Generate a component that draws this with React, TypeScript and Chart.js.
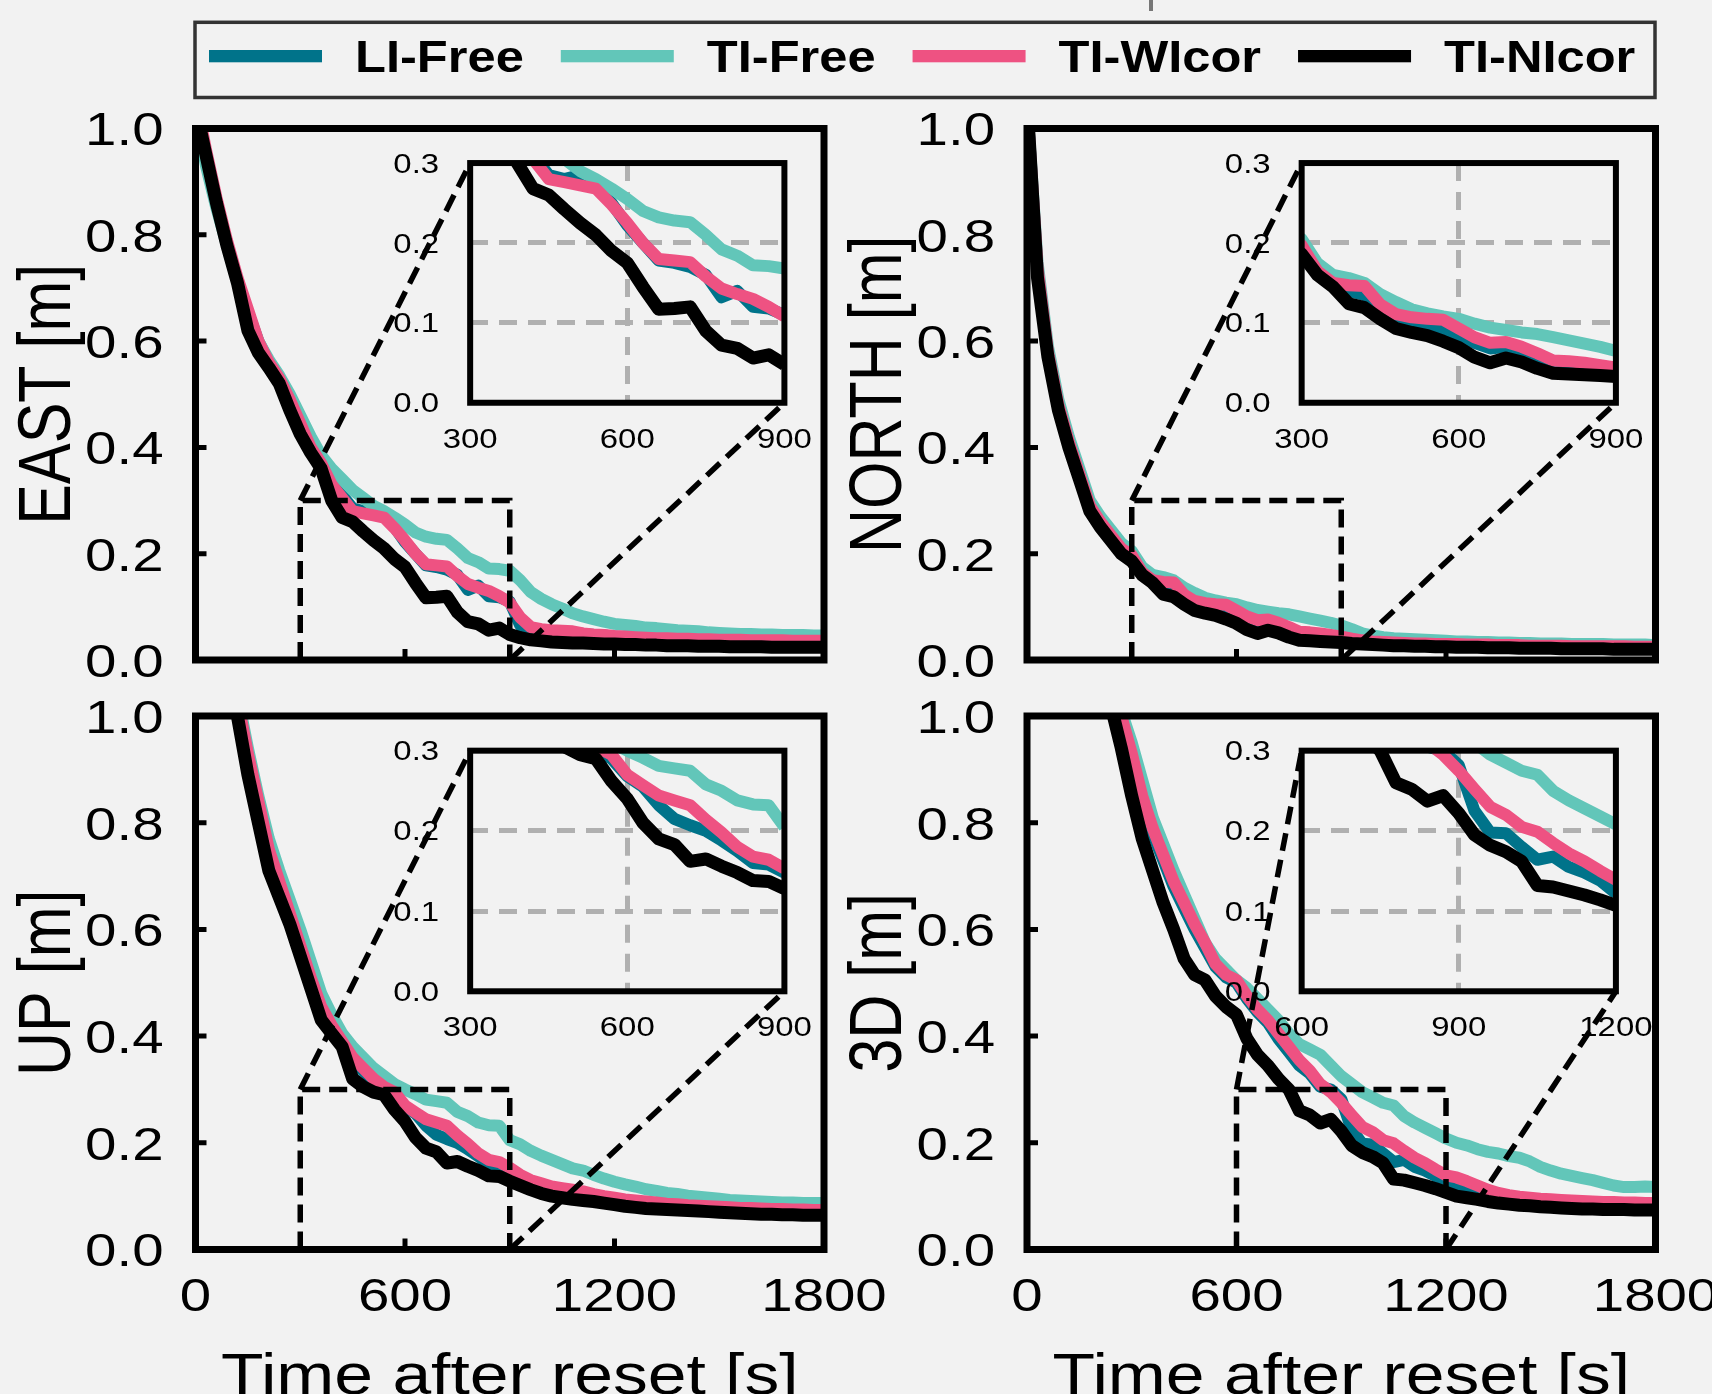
import React, { useEffect, useRef } from "react";
import { Chart, registerables } from "chart.js";

Chart.register(...registerables);

// ---------------- data ----------------
const TIME = [
  0, 30, 60, 90, 120, 150, 180, 210, 240, 270,
  300, 330, 360, 390, 420, 450, 480, 510, 540, 570,
  600, 630, 660, 690, 720, 750, 780, 810, 840, 870,
  900, 930, 960, 990, 1020, 1050, 1080, 1110, 1140, 1170,
  1200, 1230, 1260, 1290, 1320, 1350, 1380, 1410, 1440, 1470,
  1500, 1530, 1560, 1590, 1620, 1650, 1680, 1710, 1740, 1770,
  1800,
];

const SERIES_LABELS = ["LI-Free", "TI-Free", "TI-WIcor", "TI-NIcor"];

// EAST
const EAST_LI_FREE = [
  1.05, 0.95, 0.86, 0.785, 0.715, 0.655, 0.6, 0.56, 0.53, 0.49,
  0.445, 0.4, 0.365, 0.335, 0.31, 0.285, 0.28, 0.285, 0.27, 0.25,
  0.222, 0.2, 0.178, 0.175, 0.17, 0.16, 0.132, 0.14, 0.12, 0.118,
  0.11, 0.065, 0.056, 0.055, 0.054, 0.053, 0.052, 0.049, 0.047, 0.046,
  0.044, 0.043, 0.042, 0.041, 0.04, 0.04, 0.039, 0.039, 0.038, 0.038,
  0.037, 0.037, 0.037, 0.036, 0.036, 0.036, 0.036, 0.035, 0.035, 0.035,
  0.035,
];
const EAST_TI_FREE = [
  1.04, 0.93, 0.85, 0.78, 0.71, 0.65, 0.6, 0.565, 0.535, 0.5,
  0.46, 0.42, 0.385, 0.36, 0.34, 0.32, 0.305, 0.29, 0.28, 0.268,
  0.255, 0.24, 0.232, 0.228, 0.226, 0.21, 0.192, 0.184, 0.172, 0.171,
  0.168, 0.15, 0.128, 0.115, 0.105, 0.097, 0.088, 0.082, 0.077, 0.072,
  0.068, 0.066, 0.064, 0.061, 0.06, 0.058, 0.056, 0.055, 0.054, 0.052,
  0.051, 0.05, 0.049, 0.049, 0.048, 0.048, 0.047, 0.047, 0.047, 0.046,
  0.046,
];
const EAST_TI_WICOR = [
  1.06, 0.96, 0.87, 0.79, 0.72, 0.66, 0.6, 0.56, 0.53, 0.49,
  0.445, 0.4, 0.37, 0.33, 0.305, 0.28, 0.276, 0.272, 0.268, 0.248,
  0.225, 0.2, 0.18, 0.178, 0.176, 0.158, 0.143, 0.136, 0.13, 0.12,
  0.108, 0.08, 0.062, 0.058, 0.056, 0.055, 0.054, 0.05, 0.048, 0.047,
  0.045, 0.044, 0.043, 0.042, 0.041, 0.041, 0.04, 0.04, 0.039, 0.039,
  0.038, 0.038, 0.038, 0.037, 0.037, 0.037, 0.037, 0.036, 0.036, 0.036,
  0.036,
];
const EAST_TI_NICOR = [
  1.04, 0.95, 0.86, 0.78, 0.71, 0.62, 0.578, 0.55, 0.52, 0.47,
  0.425, 0.39, 0.36, 0.3, 0.268, 0.26, 0.242, 0.225, 0.21, 0.19,
  0.175, 0.145, 0.117, 0.118, 0.12, 0.09, 0.072, 0.068, 0.056, 0.06,
  0.048, 0.042, 0.038, 0.036, 0.034, 0.033, 0.032, 0.032, 0.031, 0.03,
  0.03, 0.029, 0.029, 0.028, 0.028, 0.027, 0.027, 0.027, 0.026, 0.026,
  0.026, 0.025, 0.025, 0.025, 0.025, 0.024, 0.024, 0.024, 0.024, 0.024,
  0.024,
];

// NORTH
const NORTH_LI_FREE = [
  1.05, 0.73, 0.575, 0.475, 0.405, 0.345, 0.285, 0.255, 0.23, 0.205,
  0.19, 0.162, 0.147, 0.14, 0.135, 0.115, 0.103, 0.099, 0.096, 0.093,
  0.084, 0.075, 0.068, 0.07, 0.065, 0.058, 0.048, 0.047, 0.045, 0.043,
  0.04, 0.037, 0.034, 0.033, 0.032, 0.031, 0.03, 0.029, 0.029, 0.028,
  0.028, 0.028, 0.027, 0.027, 0.027, 0.026, 0.026, 0.026, 0.025, 0.025,
  0.025, 0.025, 0.024, 0.024, 0.024, 0.024, 0.024, 0.024, 0.023, 0.023,
  0.023,
];
const NORTH_TI_FREE = [
  1.05, 0.75, 0.59, 0.49, 0.42, 0.36, 0.3, 0.27, 0.245, 0.22,
  0.205, 0.175, 0.16, 0.156, 0.15, 0.136, 0.126, 0.117, 0.112, 0.108,
  0.105, 0.099, 0.094, 0.091, 0.088, 0.086, 0.082, 0.078, 0.074, 0.07,
  0.065, 0.058, 0.05, 0.046, 0.043, 0.041, 0.04, 0.039, 0.038, 0.037,
  0.036, 0.035, 0.035, 0.034, 0.034, 0.033, 0.033, 0.032, 0.032, 0.031,
  0.031, 0.031, 0.03, 0.03, 0.03, 0.03, 0.029, 0.029, 0.029, 0.029,
  0.028,
];
const NORTH_TI_WICOR = [
  1.05, 0.74, 0.58, 0.48, 0.41, 0.35, 0.29, 0.26, 0.235, 0.21,
  0.197, 0.165, 0.15, 0.147, 0.146, 0.123, 0.111, 0.107, 0.105, 0.104,
  0.093, 0.082, 0.075, 0.076, 0.07, 0.062, 0.053, 0.052, 0.05, 0.047,
  0.044, 0.04, 0.037, 0.035, 0.034, 0.033, 0.032, 0.031, 0.031, 0.03,
  0.03, 0.03, 0.029, 0.029, 0.029, 0.028, 0.028, 0.028, 0.027, 0.027,
  0.027, 0.027, 0.026, 0.026, 0.026, 0.026, 0.026, 0.026, 0.025, 0.025,
  0.025,
];
const NORTH_TI_NICOR = [
  1.05, 0.72, 0.57, 0.47, 0.4, 0.34, 0.28, 0.25, 0.225, 0.2,
  0.186, 0.16, 0.145, 0.124, 0.119, 0.105, 0.093, 0.088, 0.084, 0.077,
  0.069, 0.057, 0.05, 0.056, 0.051, 0.043, 0.037, 0.036, 0.035, 0.034,
  0.033, 0.031, 0.03, 0.029, 0.028, 0.027, 0.027, 0.026, 0.026, 0.025,
  0.025, 0.024, 0.024, 0.024, 0.023, 0.023, 0.023, 0.022, 0.022, 0.022,
  0.022, 0.021, 0.021, 0.021, 0.021, 0.021, 0.02, 0.02, 0.02, 0.02,
  0.02,
];

// UP
const UP_LI_FREE = [
  1.5, 1.37, 1.23, 1.11, 1.02, 0.92, 0.83, 0.74, 0.68, 0.62,
  0.565, 0.505, 0.45, 0.415, 0.385, 0.355, 0.335, 0.315, 0.3, 0.29,
  0.268, 0.255, 0.232, 0.215, 0.207, 0.2, 0.188, 0.175, 0.16, 0.158,
  0.148, 0.137, 0.128, 0.121, 0.115, 0.112, 0.109, 0.106, 0.101, 0.097,
  0.094, 0.091, 0.089, 0.087, 0.085, 0.083, 0.082, 0.08, 0.079, 0.078,
  0.077, 0.076, 0.075, 0.075, 0.074, 0.073, 0.073, 0.072, 0.072, 0.071,
  0.071,
];
const UP_TI_FREE = [
  1.5, 1.38, 1.25, 1.13, 1.04, 0.94, 0.85, 0.77, 0.71, 0.655,
  0.6, 0.54, 0.48, 0.44, 0.405, 0.38, 0.36, 0.34, 0.325, 0.31,
  0.3, 0.291, 0.281, 0.278, 0.275, 0.258, 0.25, 0.238, 0.233, 0.232,
  0.205, 0.197, 0.185, 0.176, 0.168, 0.16, 0.152, 0.148, 0.14, 0.133,
  0.127, 0.122, 0.118, 0.113, 0.11, 0.106, 0.104, 0.101, 0.099, 0.097,
  0.095, 0.093, 0.092, 0.091, 0.09, 0.089, 0.088, 0.088, 0.087, 0.087,
  0.087,
];
const UP_TI_WICOR = [
  1.5, 1.38, 1.24, 1.12, 1.03, 0.93, 0.84, 0.75, 0.69, 0.63,
  0.57, 0.51, 0.455, 0.42, 0.39, 0.36, 0.34, 0.32, 0.305, 0.295,
  0.27, 0.257, 0.244, 0.238, 0.232, 0.214, 0.198, 0.18, 0.168, 0.164,
  0.153, 0.14, 0.13, 0.124, 0.118, 0.115, 0.112, 0.109, 0.104, 0.1,
  0.097, 0.094, 0.092, 0.09, 0.088, 0.086, 0.085, 0.083, 0.082, 0.081,
  0.08, 0.079, 0.078, 0.078, 0.077, 0.076, 0.076, 0.075, 0.075, 0.074,
  0.074,
];
const UP_TI_NICOR = [
  1.5, 1.35, 1.2, 1.08, 1.0, 0.89, 0.8, 0.71, 0.66, 0.61,
  0.55, 0.49, 0.43, 0.405, 0.38, 0.32, 0.305, 0.295, 0.29, 0.262,
  0.24, 0.21, 0.19, 0.183, 0.162, 0.165, 0.156, 0.148, 0.138, 0.137,
  0.128, 0.12, 0.112, 0.105, 0.1, 0.097, 0.094, 0.092, 0.09, 0.087,
  0.084, 0.081, 0.079, 0.077, 0.076, 0.075, 0.074, 0.073, 0.072, 0.071,
  0.07, 0.069, 0.068, 0.067, 0.066, 0.066, 0.065, 0.065, 0.064, 0.064,
  0.064,
];

// 3D
const D3_LI_FREE = [
  2.0, 1.81, 1.64, 1.49, 1.36, 1.25, 1.16, 1.09, 1.04, 0.99,
  0.92, 0.84, 0.78, 0.73, 0.68, 0.64, 0.6, 0.565, 0.53, 0.51,
  0.5, 0.47, 0.445, 0.425, 0.395, 0.37, 0.345, 0.33, 0.305, 0.3,
  0.282, 0.225, 0.198, 0.197, 0.18, 0.164, 0.168, 0.155, 0.148, 0.138,
  0.122, 0.115, 0.11, 0.105, 0.1, 0.097, 0.094, 0.092, 0.091, 0.09,
  0.089, 0.088, 0.088, 0.087, 0.087, 0.086, 0.086, 0.086, 0.085, 0.085,
  0.085,
];
const D3_TI_FREE = [
  2.0, 1.83, 1.67, 1.53, 1.4, 1.29, 1.2, 1.12, 1.06, 1.01,
  0.95, 0.88, 0.81, 0.76, 0.71, 0.665, 0.62, 0.575, 0.545, 0.525,
  0.505, 0.49, 0.47, 0.45, 0.43, 0.405, 0.385, 0.375, 0.365, 0.345,
  0.325, 0.31, 0.295, 0.285, 0.275, 0.27, 0.25, 0.238, 0.228, 0.218,
  0.208, 0.2, 0.195, 0.188, 0.183, 0.18, 0.175, 0.172, 0.165, 0.155,
  0.148, 0.142, 0.138, 0.134, 0.13, 0.125, 0.12, 0.117, 0.117, 0.118,
  0.117,
];
const D3_TI_WICOR = [
  2.0, 1.82, 1.65, 1.5, 1.37, 1.26, 1.17, 1.1, 1.05, 1.0,
  0.93, 0.85, 0.79, 0.74, 0.69, 0.65, 0.61, 0.575, 0.535, 0.515,
  0.505, 0.475, 0.45, 0.43, 0.405, 0.38, 0.355, 0.335, 0.31, 0.295,
  0.275, 0.252, 0.23, 0.22, 0.205, 0.199, 0.185, 0.172, 0.162, 0.15,
  0.139, 0.135, 0.128, 0.12, 0.112, 0.106, 0.102, 0.099, 0.097, 0.095,
  0.094, 0.093, 0.092, 0.091, 0.09, 0.089, 0.089, 0.088, 0.088, 0.087,
  0.087,
];
const D3_TI_NICOR = [
  2.0, 1.8, 1.62, 1.47, 1.34, 1.23, 1.14, 1.07, 1.02, 0.94,
  0.85, 0.77, 0.71, 0.65, 0.6, 0.545, 0.515, 0.505, 0.475, 0.455,
  0.44, 0.395, 0.365, 0.345, 0.32, 0.3, 0.26, 0.252, 0.237, 0.244,
  0.222, 0.195, 0.182, 0.174, 0.162, 0.132, 0.13, 0.125, 0.12, 0.114,
  0.107, 0.1, 0.097, 0.094, 0.09, 0.087, 0.085, 0.083, 0.082, 0.08,
  0.079, 0.078, 0.077, 0.076, 0.076, 0.075, 0.075, 0.075, 0.074, 0.074,
  0.074,
];

// ticks / ranges
const MAIN_X_RANGE = [0, 1800];
const MAIN_Y_RANGE = [0, 1];
const MAIN_X_TICKS = [0, 600, 1200, 1800];
const MAIN_Y_TICKS = [0, 0.2, 0.4, 0.6, 0.8, 1.0];
const INSET_Y_TICKS = [0, 0.1, 0.2, 0.3];
const INSET_X_TICKS_A = [300, 600, 900];
const INSET_X_TICKS_B = [600, 900, 1200];
const ZOOM_X_A = [300, 900];
const ZOOM_X_B = [600, 1200];
const ZOOM_Y = [0, 0.3];

// ---------------- style ----------------
const SERIES_COLORS = ["#00738a", "#62c6b9", "#ee5282", "#000000"];
const SERIES_WIDTHS = [12, 12, 12, 13];
const SERIES_ORDER = [4, 3, 2, 1];
const BG = "#f2f2f2";
const FONT = '"Liberation Sans", Arial, Helvetica, sans-serif';
const STRETCH = 1.2;

type Rect = { x: number; y: number; w: number; h: number };
type Plot = { l: number; t: number; r: number; b: number };
interface PanelSpec {
  title: string;
  series: number[][];
  zoomX: number[];
  insetXTicks: number[];
  xLabels: boolean;
  canvas: Rect;
  plot: Plot;
}

const INSET_FRAC = { x: 0.437, w: 0.5, y: 0.484, h: 0.451 };

const PANELS: PanelSpec[] = [
  {
    title: "EAST [m]",
    series: [EAST_LI_FREE, EAST_TI_FREE, EAST_TI_WICOR, EAST_TI_NICOR],
    zoomX: ZOOM_X_A, insetXTicks: INSET_X_TICKS_A, xLabels: false,
    canvas: { x: 0, y: 100, w: 900, h: 600 },
    plot: { l: 195.5, t: 128.5, r: 824, b: 660 },
  },
  {
    title: "NORTH [m]",
    series: [NORTH_LI_FREE, NORTH_TI_FREE, NORTH_TI_WICOR, NORTH_TI_NICOR],
    zoomX: ZOOM_X_A, insetXTicks: INSET_X_TICKS_A, xLabels: false,
    canvas: { x: 830, y: 100, w: 882, h: 600 },
    plot: { l: 1027, t: 128.5, r: 1655.5, b: 660 },
  },
  {
    title: "UP [m]",
    series: [UP_LI_FREE, UP_TI_FREE, UP_TI_WICOR, UP_TI_NICOR],
    zoomX: ZOOM_X_A, insetXTicks: INSET_X_TICKS_A, xLabels: true,
    canvas: { x: 0, y: 690, w: 940, h: 704 },
    plot: { l: 195.5, t: 716, r: 824, b: 1249.5 },
  },
  {
    title: "3D [m]",
    series: [D3_LI_FREE, D3_TI_FREE, D3_TI_WICOR, D3_TI_NICOR],
    zoomX: ZOOM_X_B, insetXTicks: INSET_X_TICKS_B, xLabels: true,
    canvas: { x: 830, y: 690, w: 882, h: 704 },
    plot: { l: 1027, t: 716, r: 1655.5, b: 1249.5 },
  },
];

// ---------------- helpers ----------------
function drawText(
  ctx: CanvasRenderingContext2D, text: string, x: number, y: number, size: number,
  align: CanvasTextAlign, opts: { sx?: number; bold?: boolean; rotate?: boolean } = {}
) {
  const { sx = STRETCH, bold = false, rotate = false } = opts;
  ctx.save();
  ctx.translate(x, y);
  ctx.scale(sx, 1);
  if (rotate) ctx.rotate(-Math.PI / 2);
  ctx.font = `${bold ? "bold " : ""}${size}px ${FONT}`;
  ctx.textAlign = align;
  ctx.textBaseline = "alphabetic";
  ctx.fillStyle = "#000";
  ctx.fillText(text, 0, 0);
  ctx.restore();
}

function makeDatasets(series: number[][]) {
  return series.map((vals, i) => ({
    label: SERIES_LABELS[i],
    data: TIME.map((t, k) => ({ x: t, y: vals[k] })),
    borderColor: SERIES_COLORS[i],
    backgroundColor: SERIES_COLORS[i],
    borderWidth: SERIES_WIDTHS[i],
    pointRadius: 0,
    pointHoverRadius: 0,
    tension: 0,
    fill: false,
    clip: 0,
    order: SERIES_ORDER[i],
    borderJoinStyle: "round",
    borderCapStyle: "butt",
  }));
}

function insetRect(p: Plot): Plot {
  const w = p.r - p.l, h = p.b - p.t;
  const l = p.l + INSET_FRAC.x * w;
  const r = l + INSET_FRAC.w * w;
  const b = p.b - INSET_FRAC.y * h;
  const t = p.b - (INSET_FRAC.y + INSET_FRAC.h) * h;
  return { l, t, r, b };
}

function paddingFor(c: Rect, p: Plot) {
  return { left: p.l - c.x, top: p.t - c.y, right: c.x + c.w - p.r, bottom: c.y + c.h - p.b };
}

function mainConfig(spec: PanelSpec): any {
  return {
    type: "line",
    data: { datasets: makeDatasets(spec.series) },
    options: {
      animation: false,
      responsive: false,
      devicePixelRatio: 1,
      events: [],
      layout: { padding: paddingFor(spec.canvas, spec.plot) },
      plugins: { legend: { display: false }, tooltip: { enabled: false } },
      scales: {
        x: { type: "linear", min: MAIN_X_RANGE[0], max: MAIN_X_RANGE[1], display: false },
        y: { type: "linear", min: MAIN_Y_RANGE[0], max: MAIN_Y_RANGE[1], display: false },
      },
    },
    plugins: [
      {
        id: "mainDecor",
        afterDatasetsDraw(chart: any) {
          const { ctx, chartArea: a } = chart;
          const xs = chart.scales.x, ys = chart.scales.y;
          // zoom rectangle
          const rx0 = xs.getPixelForValue(spec.zoomX[0]);
          const rx1 = xs.getPixelForValue(spec.zoomX[1]);
          const ry0 = ys.getPixelForValue(ZOOM_Y[0]);
          const ry1 = ys.getPixelForValue(ZOOM_Y[1]);
          ctx.save();
          ctx.strokeStyle = "#000";
          ctx.lineWidth = 5.5;
          ctx.setLineDash([18, 9]);
          ctx.beginPath();
          ctx.moveTo(rx0, ry0);
          ctx.lineTo(rx0, ry1);
          ctx.lineTo(rx1, ry1);
          ctx.lineTo(rx1, ry0);
          ctx.stroke();
          ctx.restore();
          // inward ticks
          ctx.save();
          ctx.strokeStyle = "#000";
          ctx.lineWidth = 5;
          ctx.beginPath();
          MAIN_Y_TICKS.forEach((v) => {
            const p = ys.getPixelForValue(v);
            ctx.moveTo(a.left, p);
            ctx.lineTo(a.left + 11, p);
          });
          MAIN_X_TICKS.forEach((v) => {
            const p = xs.getPixelForValue(v);
            ctx.moveTo(p, a.bottom);
            ctx.lineTo(p, a.bottom - 11);
          });
          ctx.stroke();
          ctx.restore();
          // frame
          ctx.save();
          ctx.strokeStyle = "#000";
          ctx.lineWidth = 7;
          ctx.strokeRect(a.left, a.top, a.right - a.left, a.bottom - a.top);
          ctx.restore();
        },
        afterDraw(chart: any) {
          const { ctx, chartArea: a } = chart;
          const xs = chart.scales.x, ys = chart.scales.y;
          MAIN_Y_TICKS.forEach((v) => {
            const p = ys.getPixelForValue(v);
            drawText(ctx, v.toFixed(1), a.left - 32, p + 16.8, 47, "right");
          });
          if (spec.xLabels) {
            MAIN_X_TICKS.forEach((v) => {
              const p = xs.getPixelForValue(v);
              drawText(ctx, String(v), p, a.bottom + 61.5, 47, "center");
            });
            drawText(ctx, "Time after reset [s]", (a.left + a.right) / 2, a.bottom + 144, 58, "center");
          }
          drawText(ctx, spec.title, a.left - 126, (a.top + a.bottom) / 2, 61, "center", { rotate: true });
        },
      },
    ],
  };
}

function insetConfig(spec: PanelSpec, main: any): any {
  const ir = insetRect(spec.plot);
  const gridStyle = { color: "#b0b0b0", lineWidth: 5, drawTicks: false, drawOnChartArea: true };
  return {
    type: "line",
    data: { datasets: makeDatasets(spec.series) },
    options: {
      animation: false,
      responsive: false,
      devicePixelRatio: 1,
      events: [],
      layout: { padding: paddingFor(spec.canvas, ir) },
      plugins: { legend: { display: false }, tooltip: { enabled: false } },
      scales: {
        x: {
          type: "linear", min: spec.zoomX[0], max: spec.zoomX[1],
          ticks: { display: false, stepSize: 300 },
          grid: gridStyle,
          border: { display: false, dash: [18, 11] },
          afterFit(s: any) { s.height = 0; },
        },
        y: {
          type: "linear", min: ZOOM_Y[0], max: ZOOM_Y[1],
          ticks: { display: false, stepSize: 0.1 },
          grid: gridStyle,
          border: { display: false, dash: [18, 11] },
          afterFit(s: any) { s.width = 0; },
        },
      },
    },
    plugins: [
      {
        id: "insetDecor",
        beforeDraw(chart: any) {
          const { ctx, chartArea: a } = chart;
          ctx.save();
          ctx.fillStyle = BG;
          ctx.fillRect(a.left, a.top, a.right - a.left, a.bottom - a.top);
          ctx.restore();
        },
        afterDatasetsDraw(chart: any) {
          const { ctx, chartArea: a } = chart;
          ctx.save();
          ctx.strokeStyle = "#000";
          ctx.lineWidth = 6;
          ctx.strokeRect(a.left, a.top, a.right - a.left, a.bottom - a.top);
          ctx.restore();
        },
        afterDraw(chart: any) {
          const { ctx, chartArea: a } = chart;
          const xs = chart.scales.x, ys = chart.scales.y;
          INSET_Y_TICKS.forEach((v) => {
            const p = ys.getPixelForValue(v);
            drawText(ctx, v.toFixed(1), a.left - 31, p + 9.6, 27, "right", { sx: 1.22 });
          });
          spec.insetXTicks.forEach((v) => {
            const p = xs.getPixelForValue(v);
            drawText(ctx, String(v), p, a.bottom + 45, 27, "center", { sx: 1.22 });
          });
          // connectors from the zoom rectangle on the main axes
          const mx = main.scales.x, my = main.scales.y;
          ctx.save();
          ctx.strokeStyle = "#000";
          ctx.lineWidth = 5.5;
          ctx.setLineDash([18, 9]);
          ctx.beginPath();
          ctx.moveTo(mx.getPixelForValue(spec.zoomX[0]), my.getPixelForValue(ZOOM_Y[1]));
          ctx.lineTo(a.left, a.top);
          ctx.moveTo(mx.getPixelForValue(spec.zoomX[1]), my.getPixelForValue(ZOOM_Y[0]));
          ctx.lineTo(a.right, a.bottom);
          ctx.stroke();
          ctx.restore();
        },
      },
    ],
  };
}

const LEGEND_CANVAS: Rect = { x: 180, y: 0, w: 1490, h: 110 };

function legendConfig(): any {
  return {
    type: "line",
    data: {
      datasets: SERIES_LABELS.map((label, i) => ({
        label, data: [], borderColor: SERIES_COLORS[i], backgroundColor: SERIES_COLORS[i],
      })),
    },
    options: {
      animation: false,
      responsive: false,
      devicePixelRatio: 1,
      events: [],
      plugins: { legend: { display: false }, tooltip: { enabled: false } },
      scales: { x: { display: false }, y: { display: false } },
    },
    plugins: [
      {
        id: "customLegend",
        afterDraw(chart: any) {
          const ctx = chart.ctx as CanvasRenderingContext2D;
          const ox = LEGEND_CANVAS.x;
          // stray mark above the legend
          ctx.save();
          ctx.strokeStyle = "#777";
          ctx.lineWidth = 4;
          ctx.beginPath();
          ctx.moveTo(1151 - ox, 0);
          ctx.lineTo(1151 - ox, 11);
          ctx.stroke();
          // frame
          ctx.strokeStyle = "#333";
          ctx.lineWidth = 3.5;
          ctx.strokeRect(195 - ox, 22.3, 1460, 75.2);
          ctx.restore();
          let x = 209 - ox;
          const sx = 1.125;
          chart.data.datasets.forEach((ds: any) => {
            ctx.save();
            ctx.fillStyle = ds.borderColor;
            ctx.fillRect(x, 50, 113, 12.3);
            ctx.restore();
            const tx = x + 113 + 33;
            drawText(ctx, ds.label, tx, 71.7, 45, "left", { sx, bold: true });
            ctx.save();
            ctx.font = `bold 45px ${FONT}`;
            const w = ctx.measureText(ds.label).width * sx;
            ctx.restore();
            x = tx + w + 37;
          });
        },
      },
    ],
  };
}

// ---------------- components ----------------
function Panel({ spec }: { spec: PanelSpec }) {
  const mainRef = useRef<HTMLCanvasElement | null>(null);
  const insetRef = useRef<HTMLCanvasElement | null>(null);
  useEffect(() => {
    if (!mainRef.current || !insetRef.current) return;
    const main = new Chart(mainRef.current, mainConfig(spec));
    const inset = new Chart(insetRef.current, insetConfig(spec, main));
    return () => {
      inset.destroy();
      main.destroy();
    };
  }, [spec]);
  const st: React.CSSProperties = {
    position: "absolute", left: spec.canvas.x, top: spec.canvas.y,
    width: spec.canvas.w, height: spec.canvas.h,
  };
  return (
    <>
      <canvas ref={mainRef} width={spec.canvas.w} height={spec.canvas.h} style={st} />
      <canvas ref={insetRef} width={spec.canvas.w} height={spec.canvas.h} style={st} />
    </>
  );
}

function Legend() {
  const ref = useRef<HTMLCanvasElement | null>(null);
  useEffect(() => {
    if (!ref.current) return;
    const chart = new Chart(ref.current, legendConfig());
    return () => chart.destroy();
  }, []);
  return (
    <canvas
      ref={ref}
      width={LEGEND_CANVAS.w}
      height={LEGEND_CANVAS.h}
      style={{ position: "absolute", left: LEGEND_CANVAS.x, top: LEGEND_CANVAS.y, width: LEGEND_CANVAS.w, height: LEGEND_CANVAS.h }}
    />
  );
}

export default function App() {
  return (
    <div style={{ position: "absolute", left: 0, top: 0, width: 1712, height: 1394, background: BG, overflow: "hidden" }}>
      {PANELS.map((p) => (
        <Panel key={p.title} spec={p} />
      ))}
      <Legend />
    </div>
  );
}
